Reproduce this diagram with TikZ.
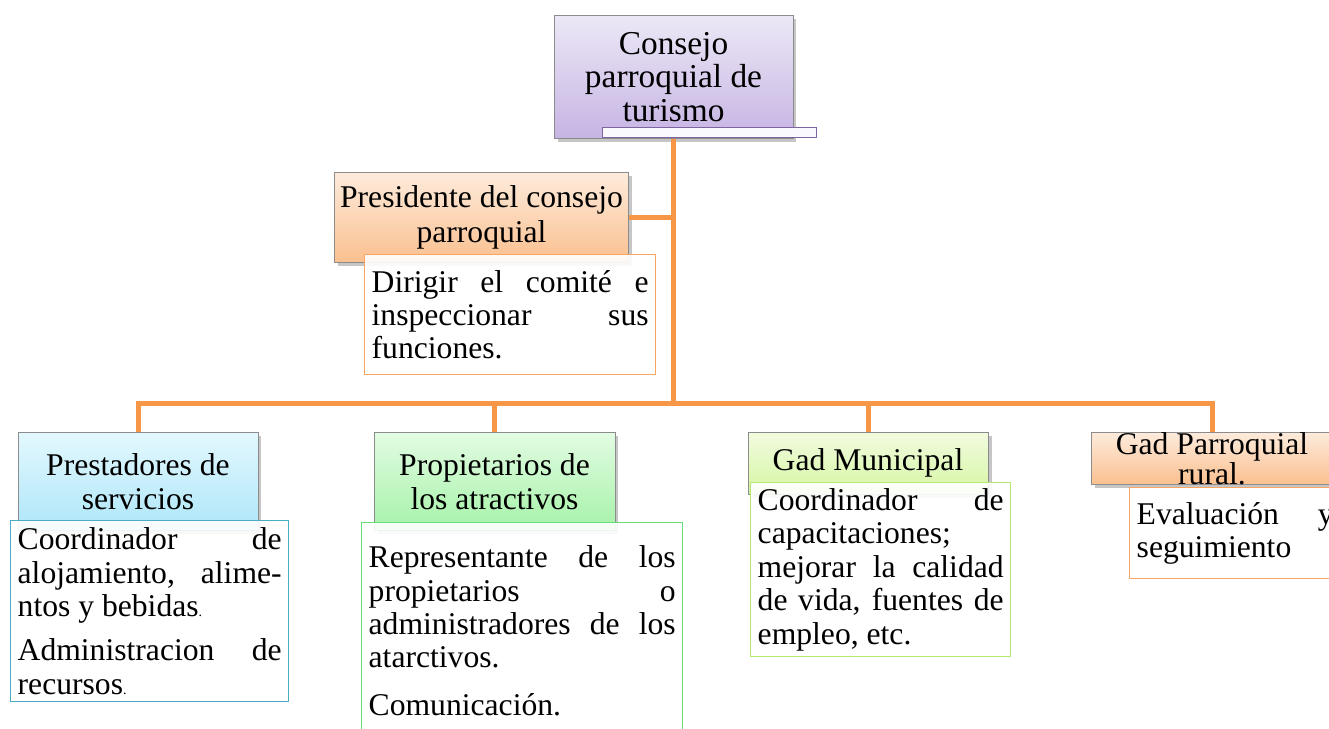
\documentclass[tikz,border=0pt]{standalone}
\usepackage{fontspec}
\setmainfont{Liberation Serif}
\usetikzlibrary{shadows}
\definecolor{mline}{HTML}{F79646}
\definecolor{mgray}{HTML}{8C8C8C}
\definecolor{mlilatop}{HTML}{ECE8F6}
\definecolor{mlila}{HTML}{C6B4E3}
\definecolor{mbar}{HTML}{8064A2}
\definecolor{mpeachtop}{HTML}{FDEBDC}
\definecolor{mpeach}{HTML}{FAC08F}
\definecolor{mcyantop}{HTML}{E3F8FE}
\definecolor{mcyan}{HTML}{AEE6F9}
\definecolor{mblue}{HTML}{4BACC6}
\definecolor{mgreentop}{HTML}{E2FCE2}
\definecolor{mgreen}{HTML}{A6F2A9}
\definecolor{mgreenline}{HTML}{66DD7A}
\definecolor{mlimetop}{HTML}{F1FBDF}
\definecolor{mlime}{HTML}{D6F6A3}
\definecolor{mlimeline}{HTML}{B5E86E}
\tikzstyle{header} = [rectangle, anchor=north, draw=mgray, align=center, font=\fontsize{18}{19.5}\selectfont, drop shadow={shadow xshift=2pt, shadow yshift=-2pt, opacity=0.45}]
\tikzstyle{duty} = [rectangle, anchor=north west, fill=white, fill opacity=0.9, text opacity=1, align=justify, inner xsep=0.14cm, line width=0.8pt, font=\fontsize{18}{19}\selectfont]
\tikzstyle{cable} = [line width=0.1cm, draw=mline]

\begin{document}
\begin{tikzpicture}[x=0.02cm, y=-0.02cm]
  \useasboundingbox (0,0) rectangle (1329,729);
  \clip (0,0) rectangle (1329,729);
  % top level
  \node (top) [header, top color=mlilatop, bottom color=mlila, minimum width=4.78cm, minimum height=2.46cm, font=\fontsize{19}{19}\selectfont] at (673.5,15) {Consejo\\parroquial de\\turismo};
  \node (bar) [anchor=north west, draw=mbar, fill=white!92!mlila, minimum width=4.28cm, minimum height=0.2cm, inner sep=0] at (602,127) {};
  \node (pres) [header, top color=mpeachtop, bottom color=mpeach, minimum width=5.86cm, minimum height=1.8cm] at (481.5,172) {Presidente del consejo\\parroquial};
  \node (presd) [duty, draw=mline!85!white, text width=5.54cm, minimum height=2.4cm] at (364,254) {Dirigir el comité e\linebreak inspeccionar sus\linebreak funciones.};
  % second level
  \node (prest) [header, top color=mcyantop, bottom color=mcyan, minimum width=4.8cm, minimum height=1.96cm] at (138,432) {Prestadores de\\servicios};
  \node (prop) [header, top color=mgreentop, bottom color=mgreen, minimum width=4.82cm, minimum height=1.96cm] at (494.5,432) {Propietarios de\\los atractivos};
  \node (gadm) [header, top color=mlimetop, bottom color=mlime, minimum width=4.8cm, minimum height=1.24cm] at (868,432) {Gad Municipal};
  \node (gadp) [header, top color=mpeachtop, bottom color=mpeach, minimum width=4.84cm, inner ysep=0pt, font=\fontsize{18}{17}\selectfont] at (1212,432) {Gad Parroquial\\rural.};
  \node (prestd) [duty, draw=mblue, text width=5.28cm, minimum height=3.62cm] at (10,520) {Coordinador de\linebreak alojamiento, alime-\linebreak ntos y bebidas{\footnotesize.}\par\vspace{6pt}Administracion de\linebreak recursos{\footnotesize.}};
  \node (propd) [duty, draw=mgreenline, text width=6.14cm, minimum height=4.32cm] at (361,522) {Representante de los\linebreak propietarios o\linebreak administradores de los\linebreak atarctivos.\par\vspace{8pt}Comunicación.};
  \node (gadmd) [duty, draw=mlimeline, text width=4.92cm, minimum height=3.44cm] at (750,482) {Coordinador de\linebreak capacitaciones;\linebreak mejorar la calidad\linebreak de vida, fuentes de\linebreak empleo, etc.};
  \node (gadpd) [duty, draw=mline!85!white, text width=3.94cm, minimum height=1.82cm] at (1129,487) {Evaluación y\linebreak seguimiento};
  % connectors
  \coordinate (bus) at (673.5,404);
  \draw [cable] (top.south) -- (bus);
  \draw [cable] (pres.east) -- (pres.east -| top.south);
  \foreach \n in {prest,prop,gadm,gadp}
    \draw [cable] (bus) -| (\n.north);
\end{tikzpicture}
\end{document}
